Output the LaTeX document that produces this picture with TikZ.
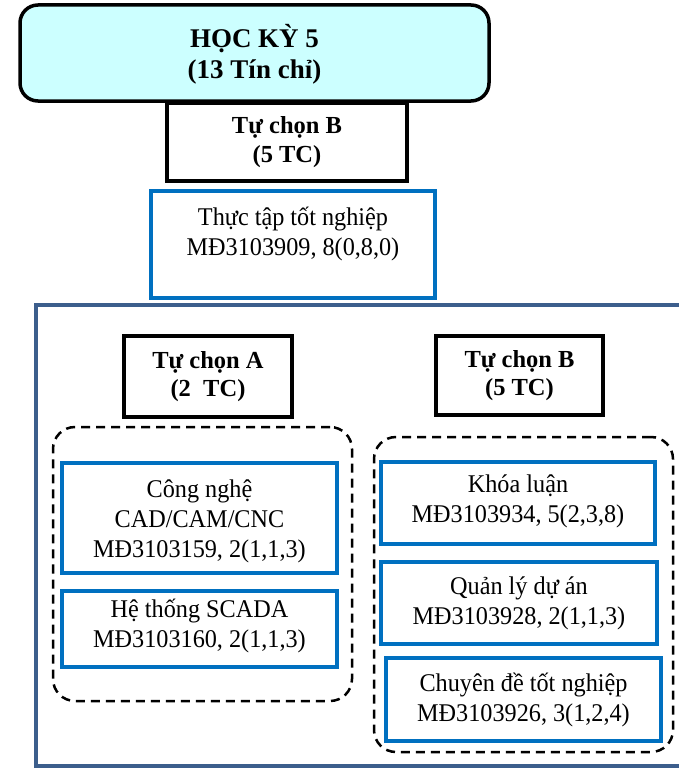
\documentclass[tikz,border=0pt]{standalone}
\usepackage{fontspec}
\setmainfont{Liberation Serif}
\newfontfamily\bodyfont[FakeStretch=0.95]{Liberation Serif}
\usetikzlibrary{positioning}

\definecolor{boxblue}{HTML}{0070C0}
\definecolor{framecol}{HTML}{3C5E8C}
\definecolor{headfill}{HTML}{CCFFFF}

\tikzset{
  pbox/.style={draw, rectangle, inner sep=0pt, outer sep=0pt, anchor=north west},
  headbox/.style={pbox, line width=3.5pt, rounded corners=18pt, fill=headfill},
  blackbox/.style={pbox, line width=4pt, draw=black},
  bluebox/.style={pbox, line width=3.5pt, draw=boxblue},
  groupbox/.style={pbox, line width=2.5pt, dash pattern=on 9pt off 6pt, rounded corners=22pt},
  framebox/.style={pbox, line width=4pt, draw=framecol},
  titletxt/.style={align=center, font=\fontsize{27}{31}\selectfont\bfseries, inner sep=0pt},
  headtxt/.style={align=center, font=\fontsize{24.5}{28.5}\selectfont\bfseries, inner sep=0pt},
  bodytxt/.style={align=center, font=\bodyfont\fontsize{25.5}{30}\selectfont, inner sep=0pt},
}

\begin{document}
\begin{tikzpicture}[x=1pt, y=-1pt]
  \useasboundingbox (0,0) rectangle (678,768);

  % semester header and the compulsory elective block below it
  \node[headbox, minimum width=469pt, minimum height=96pt] (hk) at (20,5) {};
  \node[titletxt] (hkt) at ([yshift=-1pt]hk.center) {HỌC KỲ 5\\(13 Tín chỉ)};

  \node[blackbox, minimum width=240pt, minimum height=78pt] (tcb) at (167,103) {};
  \node[headtxt] (tcbt) at (tcb.center) {Tự chọn B\\(5 TC)};

  \node[bluebox, minimum width=284pt, minimum height=107pt] (tt) at (151,191) {};
  \node[bodytxt] (ttt) at ([yshift=11pt]tt.center) {Thực tập tốt nghiệp\\MĐ3103909, 8(0,8,0)};

  % outer frame holding the two elective groups
  \node[framebox, minimum width=646pt, minimum height=461pt] (fr) at (36,305) {};

  % elective group A
  \node[blackbox, minimum width=168pt, minimum height=81pt] (tca) at (124,336) {};
  \node[headtxt] (tcat) at (tca.center) {Tự chọn A\\(2~ TC)};

  \node[groupbox, minimum width=299pt, minimum height=274pt] (ga) at (53,427) {};

  \node[bluebox, minimum width=275pt, minimum height=110pt] (cn) at (62,463) {};
  \node[bodytxt] (cnt) at ([yshift=-3pt]cn.center) {Công nghệ\\CAD/CAM/CNC\\MĐ3103159, 2(1,1,3)};

  \node[bluebox, minimum width=275pt, minimum height=76pt] (ht) at (62,591) {};
  \node[bodytxt] (htt) at ([yshift=3pt]ht.center) {Hệ thống SCADA\\MĐ3103160, 2(1,1,3)};

  % elective group B
  \node[blackbox, minimum width=167pt, minimum height=79pt] (tcb2) at (436,336) {};
  \node[headtxt] (tcb2t) at (tcb2.center) {Tự chọn B\\(5 TC)};

  \node[groupbox, minimum width=299pt, minimum height=315pt] (gb) at (374,437) {};

  \node[bluebox, minimum width=274pt, minimum height=82pt] (kl) at (381,462) {};
  \node[bodytxt] (klt) at ([yshift=2pt]kl.center) {Khóa luận\\MĐ3103934, 5(2,3,8)};

  \node[bluebox, minimum width=276pt, minimum height=82pt] (ql) at (381,562) {};
  \node[bodytxt] (qlt) at (ql.center) {Quản lý dự án\\MĐ3103928, 2(1,1,3)};

  \node[bluebox, minimum width=275pt, minimum height=83pt] (cd) at (386,658) {};
  \node[bodytxt] (cdt) at (cd.center) {Chuyên đề tốt nghiệp\\MĐ3103926, 3(1,2,4)};
\end{tikzpicture}
\end{document}
